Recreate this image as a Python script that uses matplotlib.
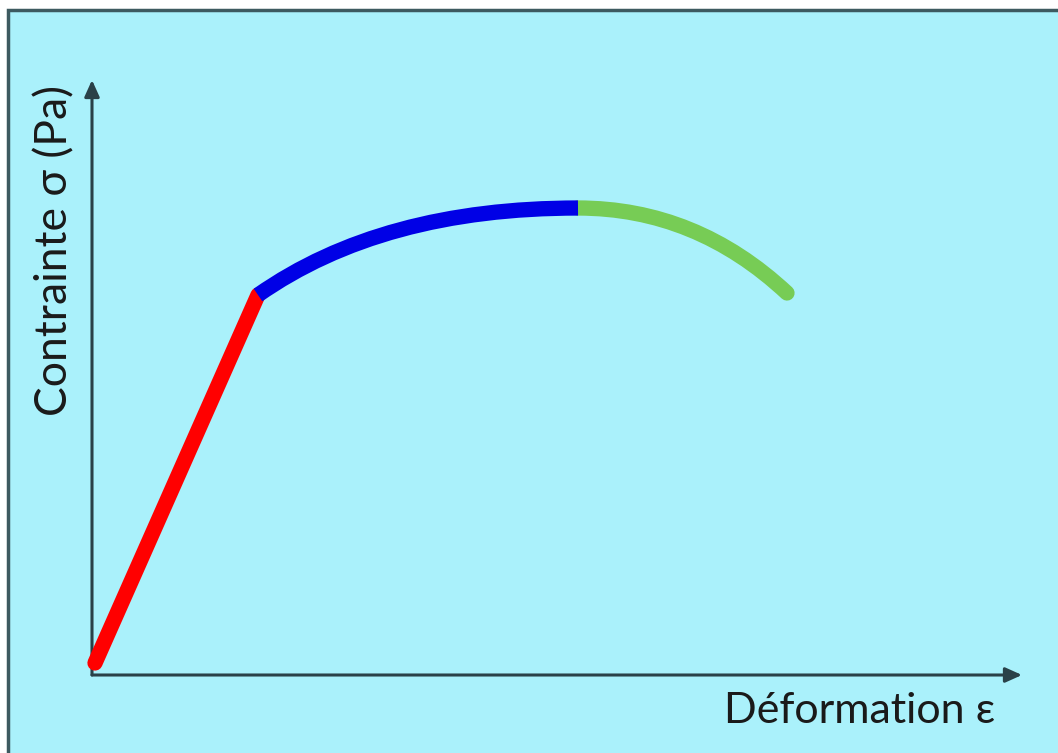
import matplotlib.pyplot as plt
from matplotlib.patches import Rectangle, PathPatch
from matplotlib.path import Path

# stress-strain curve, arbitrary units (origin at axis corner)
# elastic part: straight line
elastic_x = [0.03, 1.66]
elastic_y = [0.12, 3.80]

# plastic hardening: start, bezier control, ultimate strength
plastic_x = [1.66, 2.90, 4.86]
plastic_y = [3.80, 4.67, 4.67]

# necking: ultimate strength, bezier control, rupture
necking_x = [4.86, 6.04, 6.95]
necking_y = [4.67, 4.67, 3.82]

xlabel = 'Déformation ε'
ylabel = 'Contrainte σ (Pa)'

W, H = 1058, 753
fig = plt.figure(figsize=(W / 100, H / 100), dpi=100)
fig.patch.set_facecolor('white')
bg = '#aaf1fb'
fig.patches.append(Rectangle((8 / W, -0.02), 1, 1.02 - 10 / H, transform=fig.transFigure,
                             facecolor=bg, edgecolor='#3d5a60', linewidth=2.5, zorder=-5))

ax = fig.add_axes([0, 0, 1, 1])
ax.set_xlim(-0.92, (W - 92) / 100)
ax.set_ylim(-(H - 675) / 100, 6.75)
ax.axis('off')
ax.patch.set_alpha(0)

axcol = '#2a4148'
ax.annotate('', xy=(9.30, 0), xytext=(0, 0),
            arrowprops=dict(arrowstyle='-|>,head_length=1.0,head_width=0.45', color=axcol,
                            lw=2.2, shrinkA=0, shrinkB=0))
ax.annotate('', xy=(0, 5.95), xytext=(0, 0),
            arrowprops=dict(arrowstyle='-|>,head_length=1.0,head_width=0.45', color=axcol,
                            lw=2.2, shrinkA=0, shrinkB=0))

lw = 11
ax.plot(elastic_x, elastic_y, color='#ff0000', lw=lw, solid_capstyle='round', zorder=3)

codes = [Path.MOVETO, Path.CURVE3, Path.CURVE3]
ax.add_patch(PathPatch(Path(list(zip(plastic_x, plastic_y)), codes), fill=False,
                       edgecolor='#0000e6', lw=lw, capstyle='butt', zorder=4))
green = PathPatch(Path(list(zip(necking_x, necking_y)), codes), fill=False,
                  edgecolor='#77cc55', lw=lw, capstyle='round', zorder=3)
ax.add_patch(green)

font = ['Lato', 'DejaVu Sans']
ax.text(9.03, -0.36, xlabel, fontsize=31, family=font, color='#1a1a1a', ha='right', va='center')
ax.text(-0.37, 4.25, ylabel, fontsize=32, family=font, color='#1a1a1a', ha='center', va='center',
        rotation=90)

fig.savefig('out.png', dpi=100, facecolor=fig.get_facecolor())
